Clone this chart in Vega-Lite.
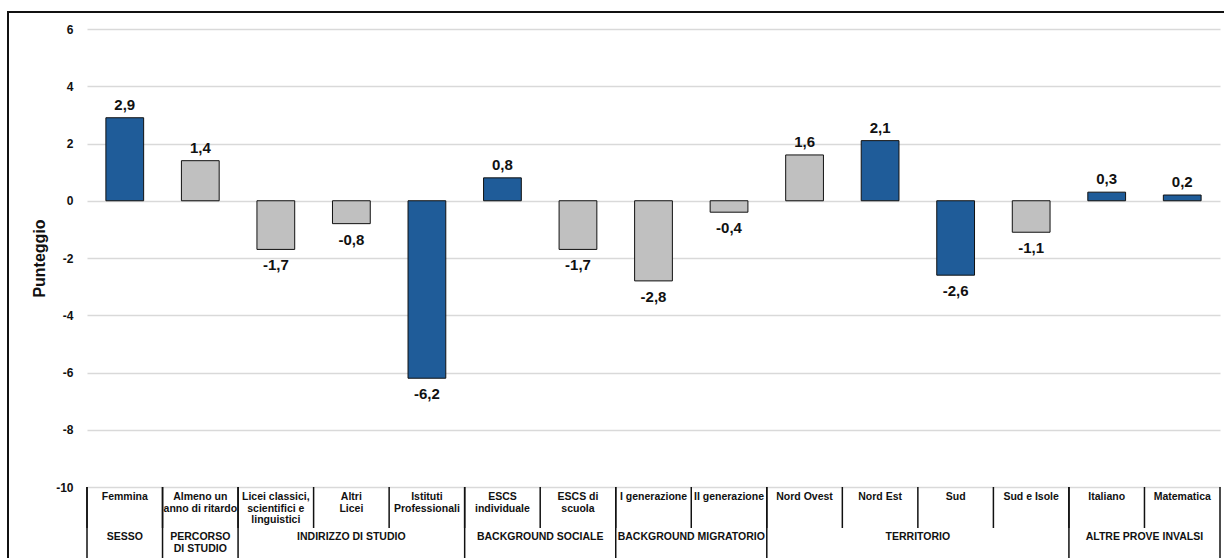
{
  "$schema": "https://vega.github.io/schema/vega-lite/v6.json",
  "width": 1222,
  "height": 552,
  "padding": {"left": 8, "top": 12, "right": -6, "bottom": -6},
  "autosize": {"type": "none"},
  "background": "white",
  "config": {
    "font": "Liberation Sans",
    "locale": {"number": {"decimal": ",", "thousands": ".", "grouping": [3], "currency": ["€", ""], "minus": "-"}},
    "view": {"stroke": "#111111", "strokeWidth": 2}
  },
  "title": {
    "text": "Variabili che incidono significativamente sul punteggio",
    "anchor": "start",
    "frame": "group",
    "orient": "top",
    "offset": 12,
    "baseline": "alphabetic",
    "dx": 209,
    "dy": 3,
    "fontSize": 24,
    "fontWeight": "normal",
    "color": "#1F5C9E",
    "font": "Liberation Sans"
  },
  "datasets": {
    "cats": [
      {"cat": "Femmina", "value": 2.9, "c": "blu"},
      {"cat": "Almeno un|anno di ritardo", "value": 1.4, "c": "grigio"},
      {"cat": "Licei classici,|scientifici e|linguistici", "value": -1.7, "c": "grigio"},
      {"cat": "Altri|Licei", "value": -0.8, "c": "grigio"},
      {"cat": "Istituti|Professionali", "value": -6.2, "c": "blu"},
      {"cat": "ESCS|individuale", "value": 0.8, "c": "blu"},
      {"cat": "ESCS  di|scuola", "value": -1.7, "c": "grigio"},
      {"cat": "I generazione", "value": -2.8, "c": "grigio"},
      {"cat": "II generazione", "value": -0.4, "c": "grigio"},
      {"cat": "Nord Ovest", "value": 1.6, "c": "grigio"},
      {"cat": "Nord Est", "value": 2.1, "c": "blu"},
      {"cat": "Sud", "value": -2.6, "c": "blu"},
      {"cat": "Sud e Isole", "value": -1.1, "c": "grigio"},
      {"cat": "Italiano", "value": 0.3, "c": "blu"},
      {"cat": "Matematica", "value": 0.2, "c": "blu"}
    ],
    "groupStarts": [
      {"cat": "Femmina"},
      {"cat": "Almeno un|anno di ritardo"},
      {"cat": "Licei classici,|scientifici e|linguistici"},
      {"cat": "ESCS|individuale"},
      {"cat": "I generazione"},
      {"cat": "Nord Ovest"},
      {"cat": "Italiano"}
    ],
    "groupLabels": [
      {"cat": "Femmina", "label": "SESSO", "n": 1},
      {"cat": "Almeno un|anno di ritardo", "label": "PERCORSO|DI STUDIO", "n": 1},
      {"cat": "Altri|Licei", "label": "INDIRIZZO DI STUDIO", "n": 3},
      {"cat": "ESCS|individuale", "label": "BACKGROUND SOCIALE", "n": 2},
      {"cat": "I generazione", "label": "BACKGROUND MIGRATORIO", "n": 2},
      {"cat": "Nord Est", "label": "TERRITORIO", "n": 4},
      {"cat": "Italiano", "label": "ALTRE PROVE INVALSI", "n": 2}
    ]
  },
  "layer": [
    {
      "layer": [
        {
          "data": {"name": "cats"},
          "mark": {"type": "bar", "width": {"band": 0.5}, "stroke": "#111111", "strokeWidth": 1},
          "encoding": {
            "x": {
              "field": "cat", "type": "nominal",
              "scale": {
                "domain": ["Femmina", "Almeno un|anno di ritardo", "Licei classici,|scientifici e|linguistici", "Altri|Licei", "Istituti|Professionali", "ESCS|individuale", "ESCS  di|scuola", "I generazione", "II generazione", "Nord Ovest", "Nord Est", "Sud", "Sud e Isole", "Italiano", "Matematica"],
                "range": [79, 1212], "paddingInner": 0, "paddingOuter": 0
              },
              "axis": {
                "orient": "bottom", "offset": -363.25, "labels": false, "title": null,
                "domainColor": "#111111", "domainWidth": 1.5, "tickColor": "#111111", "tickWidth": 1.2,
                "tickSize": 4, "tickBand": "extent", "tickExtra": true, "grid": false, "zindex": 1
              }
            },
            "y": {
              "field": "value", "type": "quantitative",
              "scale": {"domain": [-10, 6], "range": [475, 17], "nice": false},
              "axis": {
                "values": [-10, -8, -6, -4, -2, 0, 2, 4, 6], "format": "d",
                "title": "Punteggio", "titleFontSize": 16, "titleFontWeight": "bold", "titleColor": "#111111", "titlePadding": 8,
                "grid": true, "gridColor": "#D9D9D9", "gridWidth": 1.3,
                "domain": false, "ticks": false, "tickSize": 0, "offset": -79,
                "labelPadding": 14, "labelFontSize": 12, "labelFontWeight": "bold", "labelColor": "#111111"
              }
            },
            "color": {
              "field": "c", "type": "nominal",
              "scale": {"domain": ["blu", "grigio"], "range": ["#1F5C99", "#C0C0C0"]},
              "legend": null
            }
          }
        },
        {
          "data": {"name": "cats"},
          "transform": [{"filter": "datum.value > 0"}],
          "mark": {"type": "text", "baseline": "alphabetic", "dy": -8, "fontSize": 15, "fontWeight": "bold", "color": "#111111"},
          "encoding": {
            "x": {"field": "cat", "type": "nominal"},
            "y": {"field": "value", "type": "quantitative"},
            "text": {"field": "value", "type": "quantitative", "format": ".1f"}
          }
        },
        {
          "data": {"name": "cats"},
          "transform": [{"filter": "datum.value < 0"}],
          "mark": {"type": "text", "baseline": "top", "dy": 9, "fontSize": 15, "fontWeight": "bold", "color": "#111111"},
          "encoding": {
            "x": {"field": "cat", "type": "nominal"},
            "y": {"field": "value", "type": "quantitative"},
            "text": {"field": "value", "type": "quantitative", "format": ".1f"}
          }
        }
      ]
    },
    {
      "layer": [
        {
          "data": {"name": "cats"},
          "mark": {"type": "rule", "color": "#111111", "strokeWidth": 1.5},
          "encoding": {
            "x": {"field": "cat", "type": "nominal", "bandPosition": 0, "axis": null},
            "y": {"datum": 0, "type": "quantitative", "scale": {"domain": [0, 2], "range": [475, 557], "nice": false}, "axis": null},
            "y2": {"datum": 1}
          }
        },
        {
          "data": {"name": "groupStarts"},
          "mark": {"type": "rule", "color": "#111111", "strokeWidth": 1.5},
          "encoding": {
            "x": {"field": "cat", "type": "nominal", "bandPosition": 0, "axis": null},
            "y": {"datum": 0, "type": "quantitative"},
            "y2": {"datum": 2}
          }
        },
        {
          "data": {"name": "cats"},
          "transform": [{"filter": "datum.cat == 'Matematica'"}],
          "mark": {"type": "rule", "color": "#111111", "strokeWidth": 1.5},
          "encoding": {
            "x": {"field": "cat", "type": "nominal", "bandPosition": 1, "axis": null},
            "y": {"datum": 0, "type": "quantitative"},
            "y2": {"datum": 2}
          }
        },
        {
          "data": {"name": "cats"},
          "mark": {"type": "text", "baseline": "top", "dy": 5, "lineBreak": "|", "lineHeight": 11.5, "fontSize": 10.5, "fontWeight": "bold", "color": "#111111"},
          "encoding": {
            "x": {"field": "cat", "type": "nominal", "axis": null},
            "y": {"datum": 0, "type": "quantitative"},
            "text": {"field": "cat", "type": "nominal"}
          }
        },
        {
          "data": {"name": "groupLabels"},
          "transform": [{"filter": "datum.n % 2 == 1"}],
          "mark": {"type": "text", "baseline": "top", "dy": 4, "lineBreak": "|", "lineHeight": 11.5, "fontSize": 10.5, "fontWeight": "bold", "color": "#111111"},
          "encoding": {
            "x": {"field": "cat", "type": "nominal", "bandPosition": 0.5, "axis": null},
            "y": {"datum": 1, "type": "quantitative"},
            "text": {"field": "label", "type": "nominal"}
          }
        },
        {
          "data": {"name": "groupLabels"},
          "transform": [{"filter": "datum.n % 2 == 0"}],
          "mark": {"type": "text", "baseline": "top", "dy": 4, "lineBreak": "|", "lineHeight": 11.5, "fontSize": 10.5, "fontWeight": "bold", "color": "#111111"},
          "encoding": {
            "x": {"field": "cat", "type": "nominal", "bandPosition": 1, "axis": null},
            "y": {"datum": 1, "type": "quantitative"},
            "text": {"field": "label", "type": "nominal"}
          }
        }
      ]
    }
  ],
  "resolve": {"scale": {"y": "independent"}}
}
